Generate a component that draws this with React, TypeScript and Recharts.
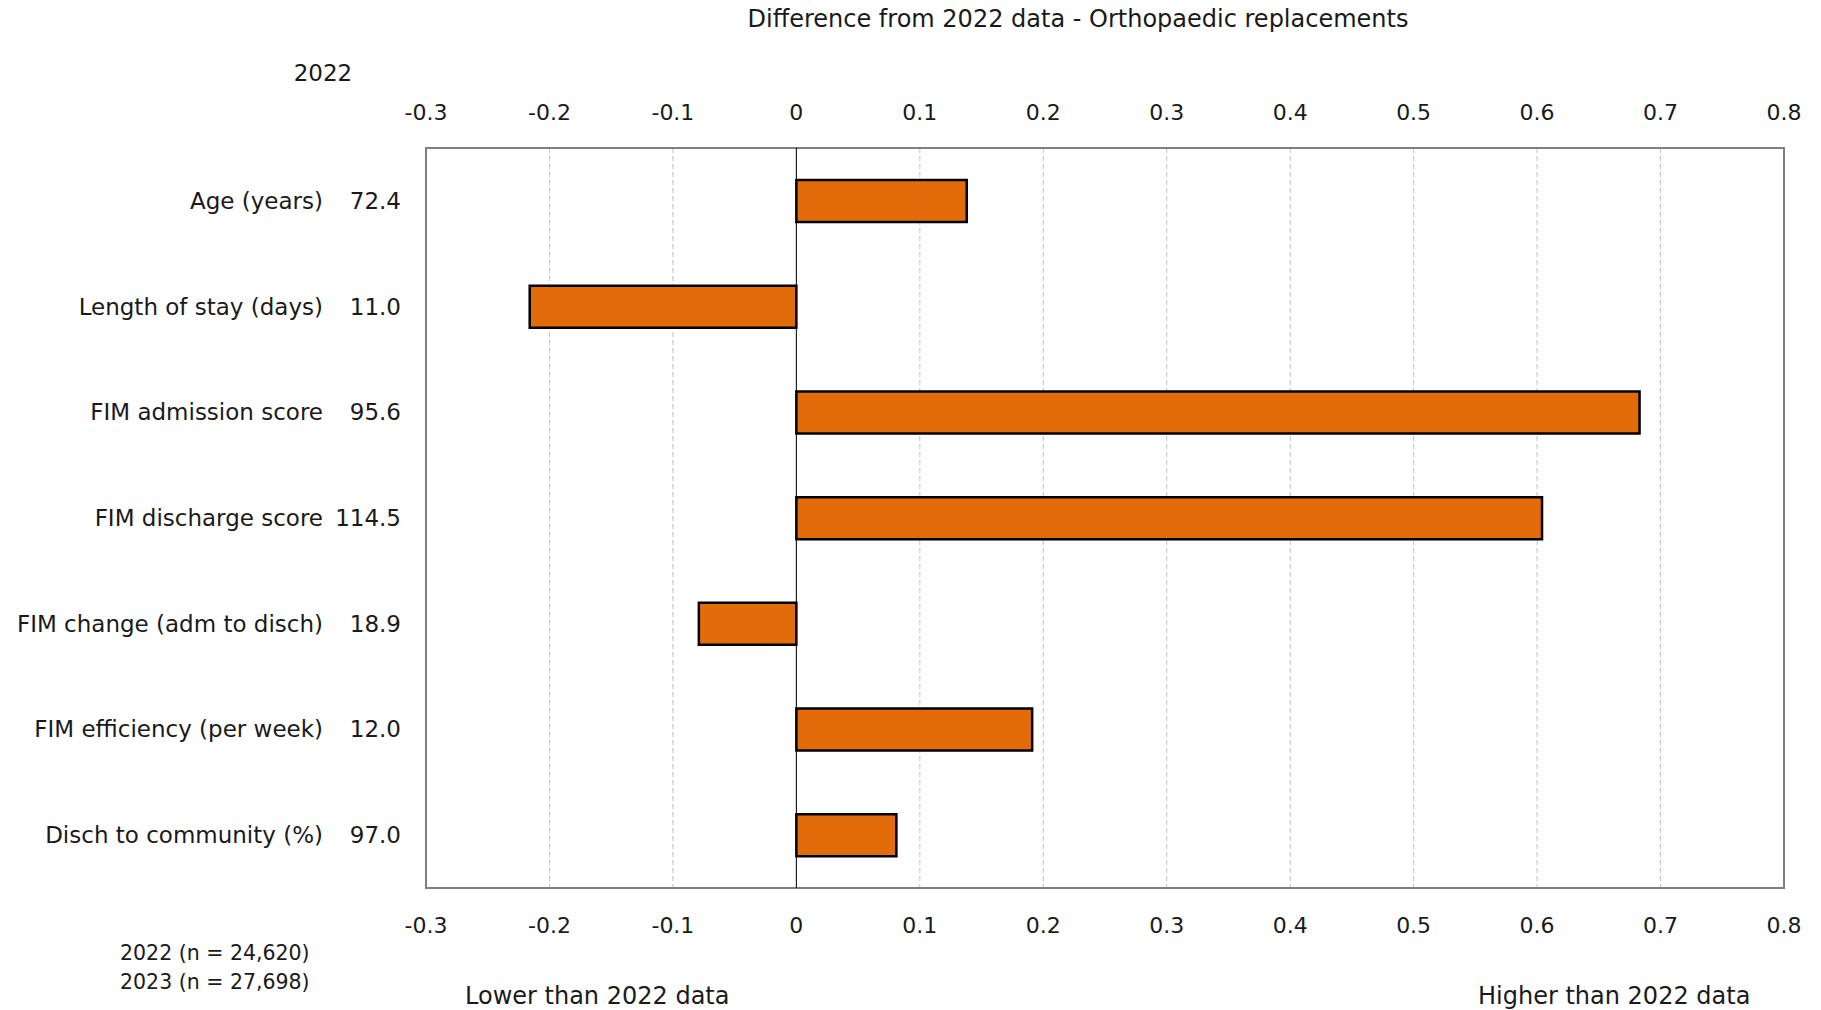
import React from "react";
import {
  BarChart,
  Bar,
  XAxis,
  YAxis,
  CartesianGrid,
  ReferenceLine,
  ReferenceArea,
} from "recharts";

const categories = [
  "Age (years)",
  "Length of stay (days)",
  "FIM admission score",
  "FIM discharge score",
  "FIM change (adm to disch)",
  "FIM efficiency (per week)",
  "Disch to community (%)",
];
const values2022 = ["72.4", "11.0", "95.6", "114.5", "18.9", "12.0", "97.0"];
const differences = [0.138, -0.216, 0.683, 0.604, -0.079, 0.191, 0.081];
const xTicks = [-0.3, -0.2, -0.1, 0, 0.1, 0.2, 0.3, 0.4, 0.5, 0.6, 0.7, 0.8];

const data = categories.map((name, i) => ({
  name,
  base: values2022[i],
  diff: differences[i],
}));

const FONT = "'DejaVu Sans', Verdana, sans-serif";
const TEXT = "#1a1a1a";

const CategoryTick = (props: any) => {
  const { y, payload, index } = props;
  return (
    <g>
      <text x={323} y={y} dy="0.35em" textAnchor="end" fontSize={23} fill={TEXT} fontFamily={FONT}>
        {payload.value}
      </text>
      <text x={401} y={y} dy="0.35em" textAnchor="end" fontSize={23} fill={TEXT} fontFamily={FONT}>
        {values2022[index]}
      </text>
    </g>
  );
};

const fmt = (v: number) => (v === 0 ? "0" : String(v));

export default function App() {
  return (
    <div
      style={{
        position: "absolute",
        left: 0,
        top: 0,
        width: 1821,
        height: 1010,
        background: "#fff",
        fontFamily: FONT,
        color: TEXT,
      }}
    >
      <BarChart
        width={1821}
        height={1010}
        data={data}
        layout="vertical"
        margin={{ top: 88, right: 37, bottom: 62, left: 0 }}
        barSize={42}
      >
        <CartesianGrid
          horizontal={false}
          stroke="#c0c0c0"
          strokeDasharray="5 3"
        />
        <XAxis
          type="number"
          domain={[-0.3, 0.8]}
          ticks={xTicks}
          allowDataOverflow
          height={60}
          tickLine={false}
          axisLine={false}
          tickMargin={23}
          tickFormatter={fmt}
          tick={{ fontSize: 22, fill: TEXT, fontFamily: FONT }}
        />
        <XAxis
          xAxisId="top"
          orientation="top"
          type="number"
          domain={[-0.3, 0.8]}
          ticks={xTicks}
          allowDataOverflow
          height={60}
          tickLine={false}
          axisLine={false}
          tickMargin={22}
          tickFormatter={fmt}
          tick={{ fontSize: 22, fill: TEXT, fontFamily: FONT }}
        />
        <YAxis
          type="category"
          dataKey="name"
          width={426}
          tickLine={false}
          axisLine={false}
          tick={<CategoryTick />}
        />
        <ReferenceArea
          x1={-0.3}
          x2={0.8}
          fill="none"
          stroke="#7f7f7f"
          strokeWidth={2}
          ifOverflow="visible"
        />
        <ReferenceLine x={0} stroke="#000" strokeWidth={1} />
        <Bar
          dataKey="diff"
          fill="#E36C0A"
          stroke="#000"
          strokeWidth={2.5}
          isAnimationActive={false}
        />
      </BarChart>
      <div style={{ position: "absolute", left: 578, width: 1000, top: 5, textAlign: "center", fontSize: 24 }}>
        Difference from 2022 data - Orthopaedic replacements
      </div>
      <div style={{ position: "absolute", left: 273, width: 100, top: 60, textAlign: "center", fontSize: 23 }}>2022</div>
      <div style={{ position: "absolute", left: 120, top: 939, fontSize: 20.5, lineHeight: "29px" }}>
        <div>2022 (n = 24,620)</div>
        <div>2023 (n = 27,698)</div>
      </div>
      <div style={{ position: "absolute", left: 465, top: 982, fontSize: 24 }}>Lower than 2022 data</div>
      <div style={{ position: "absolute", left: 1478, top: 982, fontSize: 24 }}>Higher than 2022 data</div>
    </div>
  );
}
